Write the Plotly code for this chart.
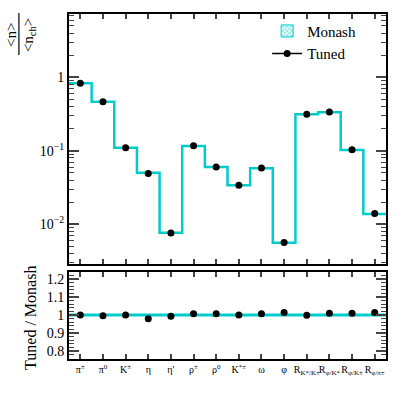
import plotly.graph_objects as go

labels = ["π<sup>±</sup>", "π<sup>0</sup>", "K<sup>±</sup>", "η", "η'", "ρ<sup>±</sup>", "ρ<sup>0</sup>",
          "K<sup>*±</sup>", "ω", "φ", "R<sub>K*/K±</sub>", "R<sub>φ/K*</sub>", "R<sub>φ/K±</sub>", "R<sub>φ/π±</sub>"]
monash = [0.83, 0.466, 0.110, 0.0504, 0.00769, 0.116, 0.060, 0.034, 0.058, 0.0056, 0.314, 0.334, 0.1026, 0.0138]
ratio = [1.0, 0.996, 1.0, 0.978, 0.993, 1.007, 1.007, 1.0, 1.007, 1.013, 0.998, 1.009, 1.009, 1.013]

CYAN = "#00cccc"
FONT = "Times New Roman, Liberation Serif, serif"

n = len(labels)
centers = list(range(n))
edges = [i - 0.5 for i in range(n + 1)]
tuned = [m * r for m, r in zip(monash, ratio)]
monash_ratio = [m / m for m in monash]

fig = go.Figure()

# top panel
fig.add_trace(go.Scatter(x=edges, y=monash + [monash[-1]], mode="lines", line_shape="hv",
                         line=dict(color=CYAN, width=2.5), showlegend=False,
                         xaxis="x", yaxis="y"))
fig.add_trace(go.Scatter(x=centers, y=tuned, mode="markers", marker=dict(color="black", size=7),
                         showlegend=False, xaxis="x", yaxis="y"))

# legend entries
fig.add_trace(go.Bar(x=[None], y=[None], name="Monash",
                     marker=dict(color="white", line=dict(color=CYAN, width=1),
                                 pattern=dict(shape="x", fgcolor=CYAN, size=4, solidity=0.5)),
                     xaxis="x", yaxis="y"))
fig.add_trace(go.Scatter(x=[None], y=[None], mode="lines+markers", name="Tuned",
                         line=dict(color="black", width=1.5), marker=dict(color="black", size=7),
                         xaxis="x", yaxis="y"))

# ratio panel
fig.add_trace(go.Scatter(x=edges, y=monash_ratio + [monash_ratio[-1]], mode="lines", line_shape="hv",
                         line=dict(color=CYAN, width=3), showlegend=False,
                         xaxis="x2", yaxis="y2"))
fig.add_trace(go.Scatter(x=centers, y=ratio, mode="markers", marker=dict(color="black", size=7),
                         showlegend=False, xaxis="x2", yaxis="y2"))

minor_log = [k * 10 ** e for e in range(-3, 1) for k in range(2, 10)]

axis_common = dict(showline=True, linecolor="black", linewidth=2, mirror="ticks",
                   ticks="inside", showgrid=False, zeroline=False, automargin=False,
                   tickfont=dict(family=FONT, size=14, color="black"))

fig.update_layout(
    width=407, height=398,
    margin=dict(l=69, r=21, t=14, b=39, autoexpand=False),
    paper_bgcolor="white", plot_bgcolor="white",
    font=dict(family=FONT, color="black"),
    xaxis=dict(axis_common, domain=[0, 1], range=[-0.5, n - 0.5], tickvals=centers,
               ticklen=5, tickwidth=1.5, showticklabels=False, anchor="y"),
    yaxis=dict(axis_common, domain=[0.2745, 1], type="log", range=[-2.544, 0.861],
               tickvals=[0.01, 0.1, 1], ticktext=["10<sup>−2</sup>", "10<sup>−1</sup>", "1"],
               ticklen=10, tickwidth=1.5,
               minor=dict(ticks="inside", ticklen=5, tickwidth=1.2, tickvals=minor_log, showgrid=False),
               anchor="x"),
    xaxis2=dict(axis_common, domain=[0, 1], range=[-0.5, n - 0.5], tickvals=centers, ticktext=labels,
                ticklen=5, tickwidth=1.5, tickfont=dict(family=FONT, size=10, color="black"),
                tickangle=0, anchor="y2"),
    yaxis2=dict(axis_common, domain=[0, 0.253], range=[0.755, 1.24],
                tickvals=[0.8, 0.9, 1.0, 1.1, 1.2], ticktext=["0.8", "0.9", "1", "1.1", "1.2"],
                ticklen=10, tickwidth=1.5,
                minor=dict(ticks="inside", ticklen=5, tickwidth=1.2, dtick=0.02, tick0=0.8, showgrid=False),
                anchor="x2"),
    legend=dict(x=0.625, y=0.998, xanchor="left", yanchor="top", bgcolor="rgba(0,0,0,0)",
                font=dict(family=FONT, size=15, color="black"), tracegroupgap=0, itemwidth=30),
    showlegend=True,
)

# y-axis titles (fraction <n>/<n_ch>)
title_font = dict(family=FONT, size=15, color="black")
fig.add_annotation(text="&lt;n&gt;", x=-0.183, y=0.939, xref="paper", yref="paper", showarrow=False,
                   xanchor="center", yanchor="middle", textangle=-90, font=title_font)
fig.add_annotation(text="&lt;n<sub>ch</sub>&gt;", x=-0.126, y=0.939, xref="paper", yref="paper",
                   showarrow=False, xanchor="center", yanchor="middle", textangle=-90, font=title_font)
fig.add_shape(type="line", xref="paper", yref="paper", x0=-0.158, x1=-0.158, y0=0.881, y1=1.003,
              line=dict(color="black", width=1.2))
fig.add_annotation(text="Tuned / Monash", x=-0.12, y=0.119, xref="paper", yref="paper", showarrow=False,
                   xanchor="center", yanchor="middle", textangle=-90,
                   font=dict(family=FONT, size=16, color="black"))

fig.write_html("out.html", config={"displayModeBar": False},
               post_script="document.body.style.margin='0';")
